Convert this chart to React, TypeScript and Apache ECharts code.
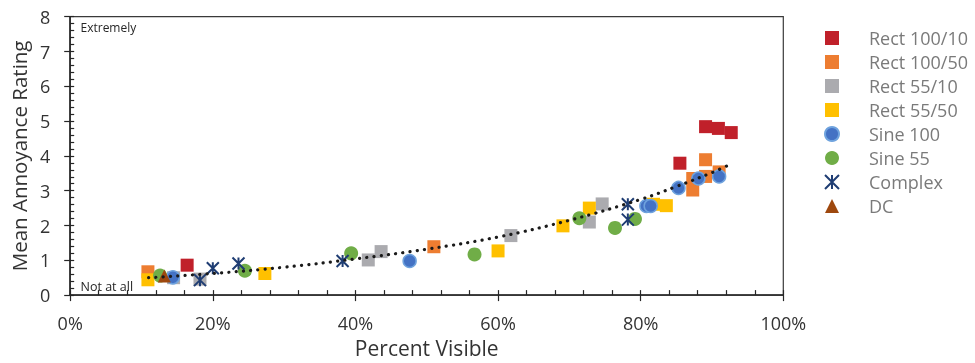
import React, { useEffect, useRef } from "react";
import * as echarts from "echarts";

// ---- data (x = percent visible, y = mean annoyance rating) ----
const rect100_10: [number, number][] = [[16.4, 0.86], [85.5, 3.79], [89.1, 4.84], [90.9, 4.79], [92.7, 4.67]];
const rect100_50: [number, number][] = [[10.9, 0.67], [51.0, 1.39], [87.3, 3.35], [87.3, 3.02], [89.1, 3.89], [89.1, 3.41], [91.0, 3.54]];
const rect55_10: [number, number][] = [[14.5, 0.5], [18.2, 0.46], [41.8, 1.01], [43.6, 1.25], [61.8, 1.71], [72.8, 2.1], [74.6, 2.62]];
const rect55_50: [number, number][] = [[10.9, 0.44], [27.3, 0.62], [60.0, 1.27], [69.1, 1.99], [72.8, 2.5], [81.8, 2.61], [83.6, 2.57]];
const sine100: [number, number][] = [[14.4, 0.51], [47.6, 0.98], [80.8, 2.56], [81.4, 2.56], [85.3, 3.08], [88.1, 3.35], [91.0, 3.41]];
const sine55: [number, number][] = [[12.6, 0.56], [24.5, 0.7], [39.4, 1.2], [56.7, 1.17], [71.4, 2.21], [76.4, 1.93], [79.2, 2.19]];
const complexData: [number, number][] = [[18.2, 0.43], [20.0, 0.77], [23.6, 0.91], [38.2, 0.98], [78.2, 2.61], [78.2, 2.17]];
const dcData: [number, number][] = [[13.2, 0.55]];
// trendline values
const trendData: [number, number][] = [[11, 0.5], [20, 0.62], [30, 0.8], [40, 1.04], [50, 1.32], [60, 1.67], [70, 2.15], [80, 2.75], [85, 3.12], [90, 3.52], [92.5, 3.75]];

const seriesNames = ["Rect 100/10", "Rect 100/50", "Rect 55/10", "Rect 55/50", "Sine 100", "Sine 55", "Complex", "DC"];
const xTickLabelSuffix = "%";
const axisTitles = { x: "Percent Visible", y: "Mean Annoyance Rating" };
const innerLabels = { top: "Extremely", bottom: "Not at all" };

const FONT = "'Open Sans', 'Noto Sans', sans-serif";
const STAR = "path://M0,0 L10,10 M10,0 L0,10 M5,0 L5,10";

export default function App() {
  const ref = useRef<HTMLDivElement>(null);
  useEffect(() => {
    if (!ref.current) return;
    const chart = echarts.init(ref.current, undefined, { renderer: "svg" });
    const sq = (name: string, data: [number, number][], color: string) => ({
      name, type: "scatter", data, symbol: "rect", symbolSize: 13,
      itemStyle: { color, opacity: 1 },
    });
    const grid = { left: 69.5, right: 191.7, top: 16.7, bottom: 64 };
    chart.setOption({
      animation: false,
      textStyle: { fontFamily: FONT },
      grid: { ...grid, show: true, borderColor: "#3a3a3a", borderWidth: 1.2, backgroundColor: "transparent" },
      legend: {
        orient: "vertical", left: 819, top: 23, itemWidth: 14, itemHeight: 14, itemGap: 4,
        data: seriesNames,
        textStyle: { fontFamily: FONT, fontSize: 18, color: "#7a7a7a", padding: [0, 0, 0, 25], lineHeight: 20 },
      },
      xAxis: [
        {
          type: "value", min: 0, max: 100, interval: 20,
          name: axisTitles.x, nameLocation: "middle", nameGap: 40,
          nameTextStyle: { fontFamily: FONT, fontSize: 21, color: "#333" },
          axisLine: { show: true, lineStyle: { color: "#262626", width: 1.6 } },
          axisTick: { show: true, inside: false, length: 6, lineStyle: { color: "#262626", width: 1.2 } },
          axisLabel: { formatter: "{value}" + xTickLabelSuffix, fontFamily: FONT, fontSize: 18, color: "#333", margin: 19 },
          splitLine: { show: false },
        },
        {
          type: "value", min: 0, max: 100, interval: 4, position: "bottom",
          axisLine: { show: false },
          axisTick: { show: true, inside: true, length: 5, lineStyle: { color: "#262626", width: 1.2 } },
          axisLabel: { show: false }, splitLine: { show: false },
        },
      ],
      yAxis: [
        {
          type: "value", min: 0, max: 8, interval: 1,
          name: axisTitles.y, nameLocation: "middle", nameGap: 38, nameRotate: 90,
          nameTextStyle: { fontFamily: FONT, fontSize: 20.5, color: "#333" },
          axisLine: { show: true, lineStyle: { color: "#262626", width: 1.6 } },
          axisTick: { show: true, inside: false, length: 6, lineStyle: { color: "#262626", width: 1.2 } },
          axisLabel: { fontFamily: FONT, fontSize: 18, color: "#333", margin: 20 },
          splitLine: { show: false },
        },
        {
          type: "value", min: 0, max: 8, interval: 0.2, position: "left",
          axisLine: { show: false },
          axisTick: { show: true, inside: true, length: 4, lineStyle: { color: "#262626", width: 1.2 } },
          axisLabel: { show: false }, splitLine: { show: false },
        },
      ],
      graphic: [
        { type: "text", x: 80.5, y: 27, style: { text: innerLabels.top, font: `12px ${FONT}`, fill: "#262626", verticalAlign: "middle" } },
        { type: "text", x: 80.5, y: 286, style: { text: innerLabels.bottom, font: `12.5px ${FONT}`, fill: "#262626", verticalAlign: "middle" } },
      ],
      series: [
        sq(seriesNames[0], rect100_10, "#C0202A"),
        sq(seriesNames[1], rect100_50, "#ED7D31"),
        sq(seriesNames[2], rect55_10, "#ABABAF"),
        sq(seriesNames[3], rect55_50, "#FFC000"),
        {
          name: seriesNames[4], type: "scatter", data: sine100, symbol: "circle", symbolSize: 13,
          itemStyle: { color: "#4472C4", borderColor: "#6FA3DE", borderWidth: 1.5, opacity: 1 },
        },
        {
          name: seriesNames[5], type: "scatter", data: sine55, symbol: "circle", symbolSize: 14,
          itemStyle: { color: "#70AD47", opacity: 1 },
        },
        {
          name: seriesNames[6], type: "scatter", data: complexData, symbol: STAR, symbolSize: 12,
          itemStyle: { color: "rgba(0,0,0,0)", borderColor: "#1F3D73", borderWidth: 2, opacity: 1 },
        },
        {
          name: seriesNames[7], type: "scatter", data: dcData, symbol: "triangle", symbolSize: 13,
          itemStyle: { color: "#9E480E", opacity: 1 },
        },
        {
          name: "trend", type: "line", data: trendData, smooth: 0.4, showSymbol: false, z: 10,
          lineStyle: { color: "#1a1a1a", width: 3.2, type: [0.1, 7.2], cap: "round" },
          silent: true,
        },
      ],
    });
    return () => chart.dispose();
  }, []);
  return <div ref={ref} style={{ position: "fixed", left: 0, top: 0, width: 975, height: 363 }} />;
}
